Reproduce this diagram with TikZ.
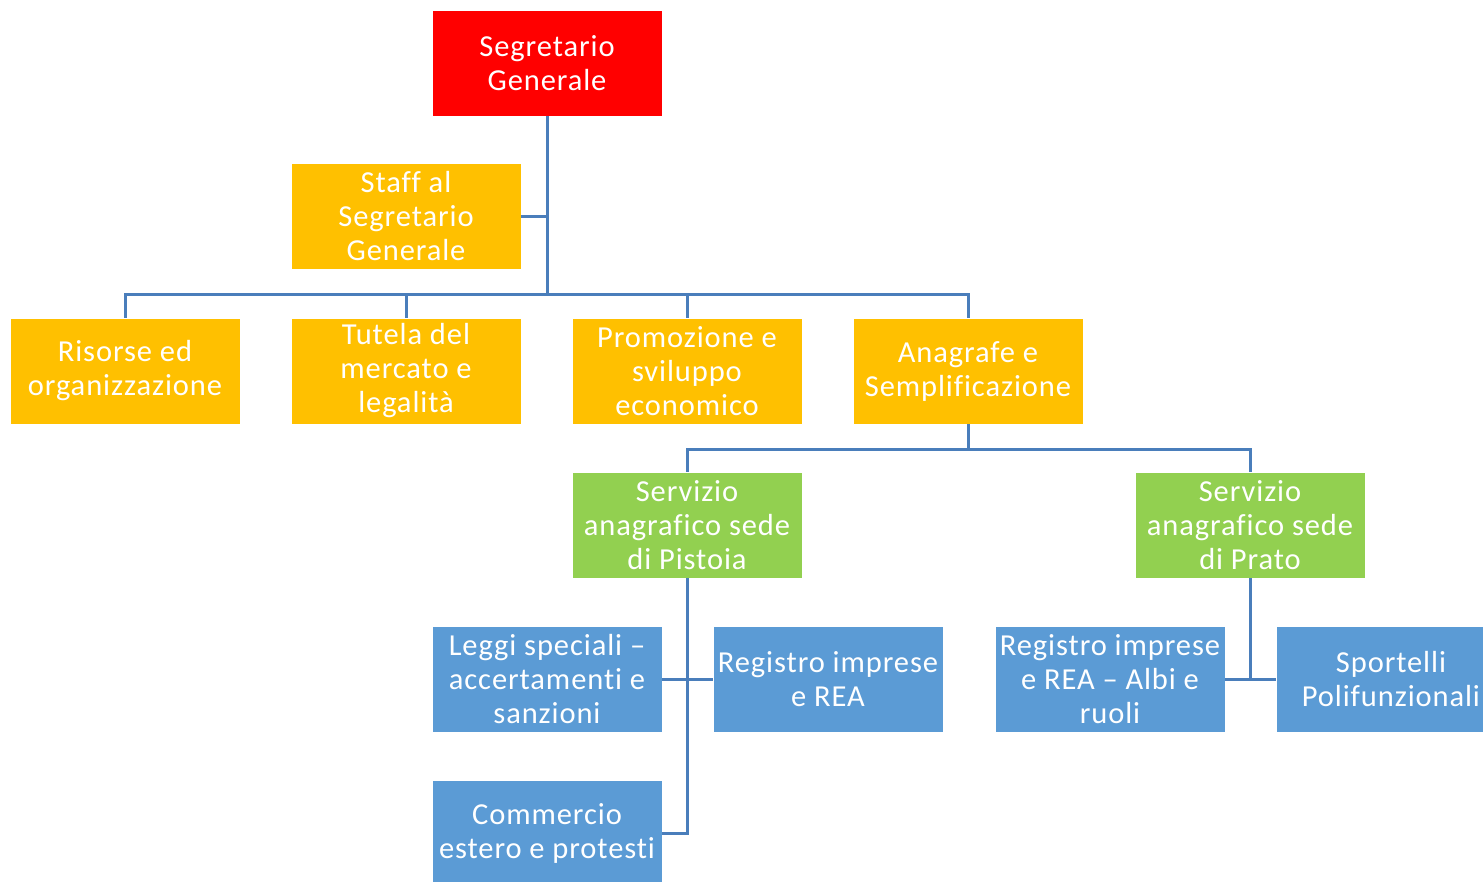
\documentclass[tikz,border=0pt]{standalone}
\usepackage{fontspec}
\setmainfont{Carlito}[LetterSpace=3.0,Ligatures=NoCommon]
\definecolor{cred}{HTML}{FF0000}
\definecolor{corange}{HTML}{FFC000}
\definecolor{cgreen}{HTML}{92D050}
\definecolor{cblue}{HTML}{5B9BD5}
\definecolor{cline}{HTML}{4A7EBB}
\tikzset{
  box/.style={rectangle, minimum width=230pt, minimum height=106pt, inner sep=0pt,
    align=center, text=white, font=\fontsize{30.5}{34}\selectfont, draw=white, line width=0.8pt},
  redbox/.style={box, fill=cred},
  orbox/.style={box, fill=corange},
  grbox/.style={box, fill=cgreen},
  blbox/.style={box, fill=cblue},
  conn/.style={draw=cline, line width=3pt}
}
\begin{document}
\begin{tikzpicture}[x=1pt,y=-1pt]
\useasboundingbox (0,0) rectangle (1483,881);
\clip (0,0) rectangle (1483,881);
\node[redbox] (sg) at (547,63) {Segretario\\Generale};
\node[orbox] (staff) at (406,216.5) {Staff al\\Segretario\\Generale};
\node[orbox] (ra) at (125,371) {Risorse ed\\organizzazione};
\node[orbox] (rb) at (406,371) {Tutela del\\mercato e\\legalità};
\node[orbox] (rc) at (687,371) {Promozione e\\sviluppo\\economico};
\node[orbox] (rd) at (968,371) {Anagrafe e\\Semplificazione};
\node[grbox] (gp) at (687,525) {Servizio\\anagrafico sede\\di Pistoia};
\node[grbox] (gpr) at (1250,525) {Servizio\\anagrafico sede\\di Prato};
\node[blbox] (leggi) at (547,679) {Leggi speciali –\\accertamenti e\\sanzioni};
\node[blbox] (reg) at (828,679) {Registro imprese\\e REA};
\node[blbox] (comm) at (547,833) {Commercio\\estero e protesti};
\node[blbox] (albi) at (1110,679) {Registro imprese\\e REA – Albi e\\ruoli};
\node[blbox] (sport) at (1391,679) {Sportelli\\Polifunzionali};
\coordinate (j1) at (547,294);
\coordinate (j2) at (968,449);
% level 1
\draw[conn] (sg.south) -- (j1);
\draw[conn] (staff.east) -- (staff.east -| sg.south);
\draw[conn] (ra.north) |- (j1) -| (rd.north);
\draw[conn] (rb.north) -- (rb.north |- j1);
\draw[conn] (rc.north) -- (rc.north |- j1);
% level 2
\draw[conn] (rd.south) -- (j2);
\draw[conn] (gp.north) |- (j2) -| (gpr.north);
% Pistoia
\draw[conn] (gp.south) -- (gp.south |- comm.east) -- (comm.east);
\draw[conn] (leggi.east) -- (reg.west);
% Prato
\draw[conn] (gpr.south) -- (gpr.south |- albi.east);
\draw[conn] (albi.east) -- (sport.west);
\end{tikzpicture}
\end{document}
